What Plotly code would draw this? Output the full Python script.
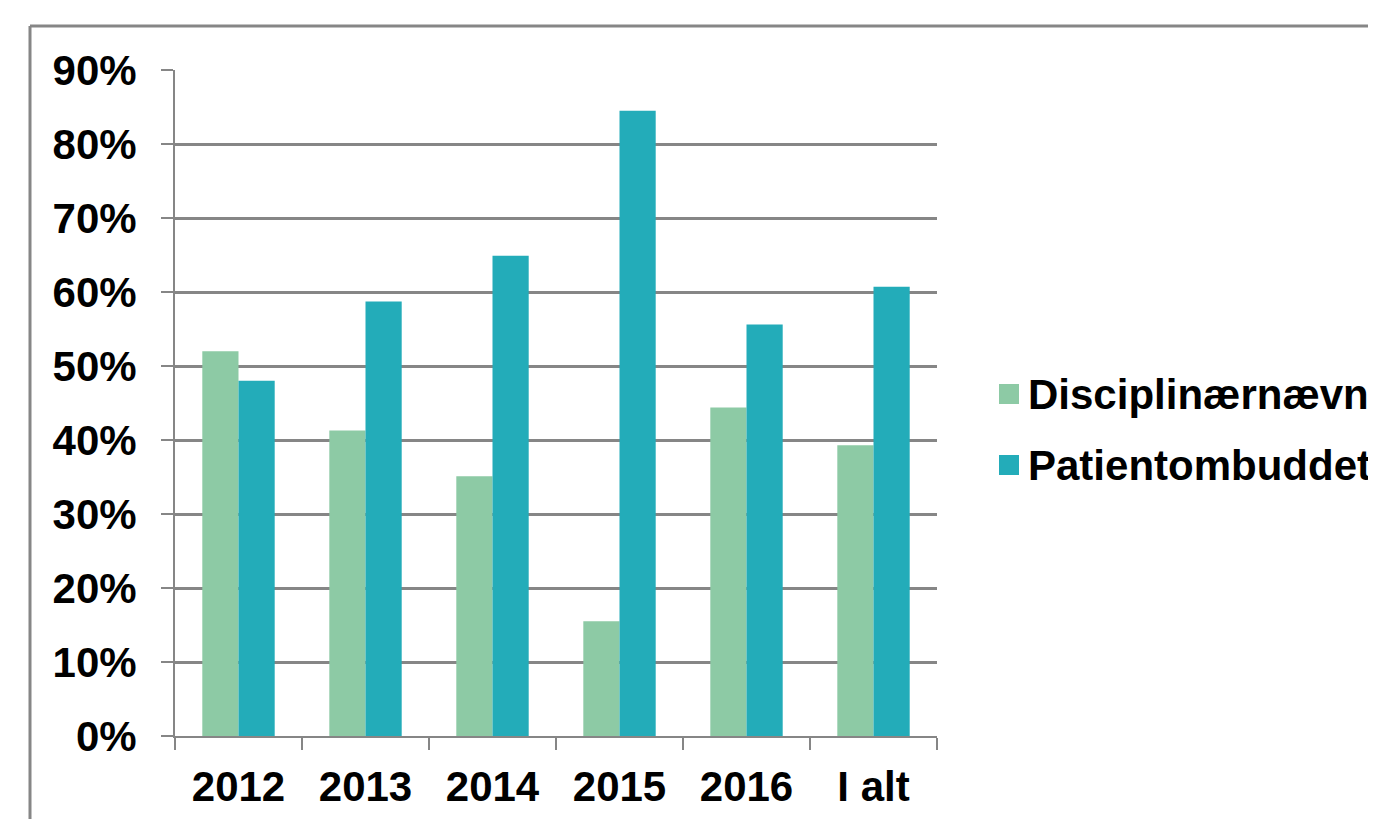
import plotly.graph_objects as go

categories = ["2012", "2013", "2014", "2015", "2016", "I alt"]
disciplin = [0.52, 0.413, 0.351, 0.155, 0.444, 0.393]
patient = [0.48, 0.587, 0.649, 0.845, 0.556, 0.607]
series_names = ["Disciplinærnævn", "Patientombuddet"]
series_colors = ["#8DCAA5", "#23ACB9"]
y_ticks = [0, 0.1, 0.2, 0.3, 0.4, 0.5, 0.6, 0.7, 0.8, 0.9]
y_labels = ["0%", "10%", "20%", "30%", "40%", "50%", "60%", "70%", "80%", "90%"]

# page body margin of 8px shifts the figure; work in screen pixels and convert
OFF = 8
W, H = 1376 - OFF, 819 - OFF
L, R, T, B = 175 - OFF, 937 - OFF, 70 - OFF, 736 - OFF

font_main = dict(family="Liberation Sans, Arial, sans-serif", size=42, color="#000000", weight="bold")
grey = "#868686"

fig = go.Figure()
for name, vals, col in zip(series_names, [disciplin, patient], series_colors):
    fig.add_trace(go.Bar(x=categories, y=vals, name=name, marker_color=col, marker_line_width=0))

def px2x(p):
    return (p - OFF - L) / (R - L)

def px2y(p):
    return (B - (p - OFF)) / (B - T)

shapes = [
    dict(type="line", xref="paper", yref="paper", x0=px2x(30), x1=px2x(30), y0=px2y(26), y1=px2y(840),
         line=dict(color=grey, width=3)),
    dict(type="line", xref="paper", yref="paper", x0=px2x(30), x1=px2x(1400), y0=px2y(26), y1=px2y(26),
         line=dict(color=grey, width=3)),
]
annotations = []
legend_y = [394, 465]
for name, col, yc in zip(series_names, series_colors, legend_y):
    shapes.append(dict(type="rect", xref="paper", yref="paper",
                       x0=px2x(999), x1=px2x(1019), y0=px2y(yc - 10), y1=px2y(yc + 10),
                       fillcolor=col, line=dict(width=0)))
    annotations.append(dict(xref="paper", yref="paper", x=px2x(1026), y=px2y(yc), xanchor="left",
                            yanchor="middle", text=name, showarrow=False, font=font_main))

fig.update_layout(
    width=W, height=H,
    margin=dict(l=L, r=W - R, t=T, b=H - B, pad=0, autoexpand=False),
    paper_bgcolor="white", plot_bgcolor="white",
    barmode="group", bargap=0.43, bargroupgap=0,
    font=font_main,
    showlegend=False,
    xaxis=dict(showline=True, linecolor=grey, linewidth=2, ticks="outside", tickson="boundaries",
               ticklen=12, tickwidth=2, tickcolor=grey, tickfont=font_main, showgrid=False,
               ticklabelstandoff=13, automargin=False),
    yaxis=dict(range=[0, 0.9], tickvals=y_ticks, ticktext=y_labels, showline=True, linecolor=grey,
               linewidth=2, ticks="outside", ticklen=12, tickwidth=2, tickcolor=grey,
               showgrid=True, gridcolor=grey, gridwidth=2.5, tickfont=font_main, zeroline=False,
               ticklabelstandoff=16, automargin=False),
    shapes=shapes,
    annotations=annotations,
)

fig.write_html("out.html")
